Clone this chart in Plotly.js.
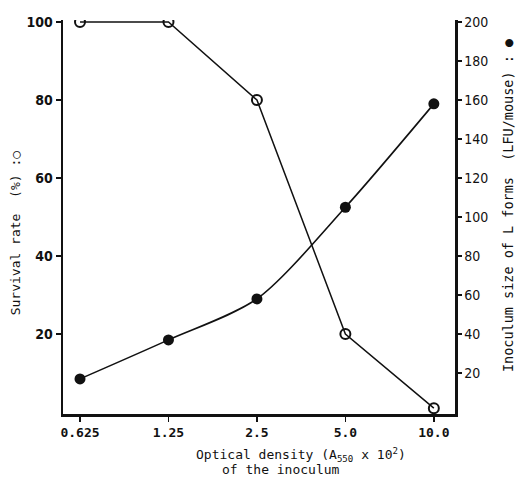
<!DOCTYPE html>
<html>
<head>
<meta charset="utf-8">
<script src="https://cdn.plot.ly/plotly-3.0.1.min.js"></script>
<style>html,body{margin:0;padding:0;background:#fff;}#chart{width:517px;height:480px;}</style>
</head>
<body>
<div id="chart"></div>
<script>
// Data
const opticalDensity = [0.625, 1.25, 2.5, 5.0, 10.0];
const tickLabels = ["0.625", "1.25", "2.5", "5.0", "10.0"];
const survivalRate = [100, 100, 80, 20, 1];          // % (open circles, left axis)
const inoculumSize = [17, 37, 58, 105, 158];         // LFU/mouse (filled circles, right axis)
const leftTicks = [20, 40, 60, 80, 100];
const rightTicks = [20, 40, 60, 80, 100, 120, 140, 160, 180, 200];

const tickFont = {family: "Liberation Sans Narrow, DejaVu Sans Condensed, Arial Narrow, sans-serif", size: 14, color: "#111", weight: "bold"};
const xTickFont = {family: "DejaVu Sans Mono, Liberation Mono, monospace", size: 13, color: "#111", weight: "bold"};
const titleFont = {family: "DejaVu Sans Mono, Liberation Mono, monospace", size: 13, color: "#111"};

const traces = [
  {
    x: opticalDensity, y: inoculumSize, yaxis: "y2",
    mode: "lines+markers", type: "scatter",
    line: {color: "#111", width: 1.6, shape: "spline", smoothing: 0.8},
    marker: {symbol: "circle", size: 11, color: "#111"},
    name: "Inoculum size"
  },
  {
    x: opticalDensity, y: survivalRate,
    mode: "lines+markers", type: "scatter",
    line: {color: "#111", width: 1.5},
    marker: {symbol: "circle-open", size: 10, color: "#111", line: {width: 2, color: "#111"}},
    name: "Survival rate"
  }
];

const layout = {
  width: 517, height: 480,
  margin: {l: 63, r: 62, t: 20, b: 66},
  paper_bgcolor: "#fff", plot_bgcolor: "#fff",
  showlegend: false,
  xaxis: {
    type: "log", range: [-0.262, 1.072],
    tickvals: opticalDensity, ticktext: tickLabels,
    showgrid: false, zeroline: false,
    showline: true, linecolor: "#111", linewidth: 2.5,
    ticks: "outside", ticklen: 5, tickwidth: 1.5, tickcolor: "#111",
    tickfont: xTickFont
  },
  yaxis: {
    range: [-0.5, 100.5],
    tickvals: leftTicks,
    showgrid: false, zeroline: false,
    showline: true, linecolor: "#111", linewidth: 2.5,
    ticks: "outside", ticklen: 5, tickwidth: 1.5, tickcolor: "#111",
    tickfont: tickFont
  },
  yaxis2: {
    overlaying: "y", side: "right",
    range: [-1, 201],
    tickvals: rightTicks,
    showgrid: false, zeroline: false,
    showline: true, linecolor: "#111", linewidth: 2.5,
    ticks: "outside", ticklen: 4, tickwidth: 1.5, tickcolor: "#111",
    tickfont: {family: "DejaVu Sans Condensed, Liberation Sans Narrow, sans-serif", size: 14, color: "#111"}
  },
  annotations: [
    {text: "Survival rate  (%) :○", xref: "paper", yref: "paper", x: -0.122, y: 0.459,
     textangle: -90, showarrow: false, font: titleFont, xanchor: "center", yanchor: "middle"},
    {text: "Inoculum size of L forms  (LFU/mouse) : ●", xref: "paper", yref: "paper", x: 1.135, y: 0.53,
     textangle: -90, showarrow: false, font: {family: titleFont.family, size: 13.5, color: "#111"}, xanchor: "center", yanchor: "middle"},
    {text: "Optical density (A<sub>550</sub> x 10<sup>2</sup>)", xref: "paper", yref: "paper", x: 0.607, y: -0.104,
     showarrow: false, font: titleFont, xanchor: "center", yanchor: "middle"},
    {text: "of the inoculum", xref: "paper", yref: "paper", x: 0.556, y: -0.142,
     showarrow: false, font: titleFont, xanchor: "center", yanchor: "middle"}
  ]
};

Plotly.newPlot("chart", traces, layout, {displayModeBar: false, staticPlot: true});
</script>
</body>
</html>
